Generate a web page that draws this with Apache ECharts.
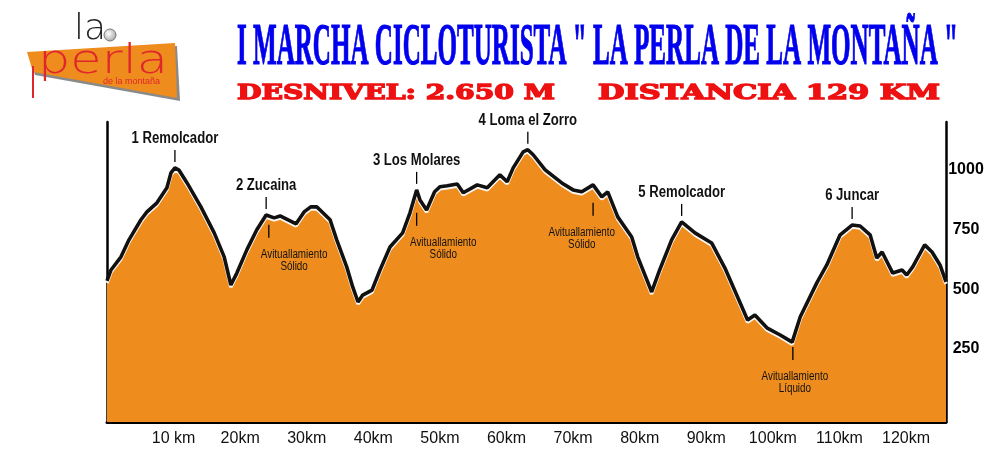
<!DOCTYPE html>
<html><head><meta charset="utf-8">
<script src="https://cdn.jsdelivr.net/npm/echarts@6/dist/echarts.min.js"></script>
<style>html,body{margin:0;padding:0;background:#fff}#c{width:1000px;height:458px}</style>
</head><body><div id="c"></div>
<script>
// ---- data ----
const distanceKm = [0,0.6,2.1,3.3,5.1,6.0,7.5,9.0,9.6,10.2,10.8,12.0,14.1,16.1,17.6,18.6,19.5,21.0,22.5,23.9,25.1,26.0,26.9,28.4,29.6,30.6,31.5,32.0,33.5,34.5,36.0,36.9,37.7,38.4,39.8,41.0,42.5,44.4,45.5,46.5,47.0,48.0,49.2,50.0,51.1,52.6,53.5,55.6,57.1,59.0,60.1,61.0,62.5,63.2,64.0,65.8,68.3,70.0,71.3,73.0,74.3,75.2,76.7,78.8,79.7,81.8,83.0,84.8,86.3,88.3,90.8,92.8,94.7,96.2,97.3,99.1,101.1,102.9,104.1,106.6,108.1,110.1,111.9,113.1,114.6,115.6,116.4,118.0,119.4,120.1,121.0,122.8,123.9,125.1,126.0];
const elevationM = [535,581,636,707,791,824,862,925,987,1008,999,946,845,736,636,518,568,665,749,811,799,807,795,774,824,845,845,832,791,707,594,510,447,476,497,581,677,736,820,916,874,832,908,929,933,941,904,937,925,979,950,1008,1075,1084,1063,1000,945,916,908,937,887,908,803,719,636,489,581,707,782,736,694,589,468,372,393,339,309,279,384,527,602,728,769,765,728,631,656,568,581,560,594,686,656,602,531];
const xTickKm = [10,20,30,40,50,60,70,80,90,100,110,120];
const yTickM = [250,500,750,1000];
const peakNames = ['1 Remolcador','2 Zucaina','3 Los Molares','4 Loma el Zorro','5 Remolcador','6 Juncar'];
const peakKm = [10.2,23.9,46.5,63.2,86.3,111.9];
const peakElev = [1008,811,916,1084,782,769];
const stopLine1 = ['Avituallamiento','Avituallamiento','Avituallamiento','Avituallamiento'];
const stopLine2 = ['Sólido','Sólido','Sólido','Líquido'];
const stopKm = [24.3,46.5,73.0,103.0];
const stopElev = [770,820,862,259];
const stopTextKm = [28.1,50.5,71.3,103.3];
const titleText = 'I MARCHA CICLOTURISTA " LA PERLA DE LA MONTAÑA "';
const sub1 = 'DESNIVEL: 2.650 M';
const sub2 = 'DISTANCIA 129 KM';

// ---- helpers ----
const mctx = document.createElement('canvas').getContext('2d');
function textW(t, font){ mctx.font = font; return mctx.measureText(t).width; }
function hasFont(name){
  const s='abcdefghijklmnopqrstuvwxyz0123456789';
  const a=textW(s,'20px monospace'); const b=textW(s,'20px "'+name+'", monospace');
  return Math.abs(a-b)>0.5;
}
const narrowOK = hasFont('Liberation Sans Narrow');
const NF = narrowOK ? '"Liberation Sans Narrow"' : '"Liberation Sans"';
const NS = narrowOK ? 1 : 0.82;

const chart = echarts.init(document.getElementById('c'), null, {renderer:'canvas'});

const titleFont = 'bold 60px "Liberation Serif"';
const subFont = 'bold 20px "DejaVu Serif"';
const perlaFont = '200 44px "DejaVu Sans"';
const laFont = '200 36px "DejaVu Sans"';

const option = {
  animation:false,
  backgroundColor:'#fff',
  grid:{left:107,right:54,top:122,bottom:36},
  xAxis:{type:'value',min:0,max:126,
    axisLine:{show:true,onZero:false,lineStyle:{color:'#000',width:3}},
    axisTick:{show:false},splitLine:{show:false},
    axisLabel:{customValues:xTickKm,margin:9,color:'#111',
      fontFamily:NF,fontSize:narrowOK?19:16,
      formatter:v=> v===10 ? '10 km' : v+'km'}},
  yAxis:[
    {type:'value',min:-55,max:1200,position:'right',
      axisLine:{show:true,onZero:false,lineStyle:{color:'#000',width:2.5}},
      axisTick:{show:false},splitLine:{show:false},
      axisLabel:{customValues:yTickM,align:'center',margin:20,color:'#000',
        fontWeight:'bold',fontFamily:NF,fontSize:narrowOK?19:16,formatter:v=>String(v)}},
    {type:'value',min:-55,max:1200,position:'left',
      axisLine:{show:true,onZero:false,lineStyle:{color:'#000',width:2.5}},
      axisTick:{show:false},splitLine:{show:false},axisLabel:{show:false}}
  ],
  series:[
    {type:'line',yAxisIndex:0,data:distanceKm.map((d,i)=>[d,elevationM[i]]),
      symbol:'none',smooth:false,
      lineStyle:{color:'#111',width:3.6,shadowColor:'rgba(255,255,255,0.95)',shadowBlur:0,shadowOffsetY:2},
      areaStyle:{color:'#EE8C1D',opacity:1,origin:'start'},z:2},
    {type:'custom',yAxisIndex:0,clip:false,z:5,
      data:peakKm.map((k,i)=>[k,peakElev[i]]),
      renderItem:(params,api)=>{
        const p=api.coord([api.value(0),api.value(1)]);
        const i=params.dataIndex;
        return {type:'group',children:[
          {type:'line',shape:{x1:p[0],y1:p[1]-18,x2:p[0],y2:p[1]-6},style:{stroke:'#000',lineWidth:1.3}},
          {type:'text',x:p[0],y:p[1]-29,scaleX:NS,style:{text:peakNames[i],font:'bold 16px '+NF,fill:'#111',align:'center',verticalAlign:'middle'}}
        ]};
      }},
    {type:'custom',yAxisIndex:0,clip:false,z:5,
      data:stopKm.map((k,i)=>[k,stopElev[i],stopTextKm[i]]),
      renderItem:(params,api)=>{
        const p=api.coord([api.value(0),api.value(1)]);
        const tx=api.coord([api.value(2),api.value(1)])[0];
        const i=params.dataIndex;
        return {type:'group',children:[
          {type:'line',shape:{x1:p[0],y1:p[1],x2:p[0],y2:p[1]+13},style:{stroke:'#000',lineWidth:1.3}},
          {type:'text',x:tx,y:p[1]+30,scaleX:NS,style:{text:stopLine1[i],font:'12px '+NF,fill:'#111',align:'center',verticalAlign:'middle'}},
          {type:'text',x:tx,y:p[1]+42,scaleX:NS,style:{text:stopLine2[i],font:'12px '+NF,fill:'#111',align:'center',verticalAlign:'middle'}}
        ]};
      }}
  ],
  graphic:[
    // logo
    {type:'polygon',shape:{points:[[29,55],[177,46],[180,101],[35,75]]},style:{fill:'#8a8a8a'},z:1},
    {type:'polygon',shape:{points:[[27,52],[175,43],[177,98],[33,72]]},style:{fill:'#EE8C1D'},z:2},
    {type:'line',shape:{x1:33,y1:66,x2:33,y2:98},style:{stroke:'#e0262d',lineWidth:2},z:3},
    {type:'text',x:38,y:62,scaleX:130/textW('perla',perlaFont),scaleY:0.92,style:{text:'perla',font:perlaFont,fill:'#e0262d',align:'left',verticalAlign:'middle'},z:3},
    {type:'text',x:74,y:30,style:{text:'la',font:laFont,fill:'#222',align:'left',verticalAlign:'middle'},z:3},
    {type:'circle',shape:{cx:110,cy:35,r:6},style:{fill:{type:'radial',x:0.4,y:0.4,r:0.7,colorStops:[{offset:0,color:'#ffffff'},{offset:1,color:'#9a9a9a'}]},stroke:'#777',lineWidth:1},z:4},
    {type:'text',x:103,y:82,style:{text:'de la montaña',font:'9px "Liberation Sans"',fill:'#e0262d',align:'left',verticalAlign:'middle'},z:3},
    // title
    {type:'text',x:237,y:48,scaleX:721/textW(titleText,titleFont),style:{text:titleText,font:titleFont,fill:'#0000ee',stroke:'#0000ee',lineWidth:1.2,align:'left',verticalAlign:'middle'}},
    {type:'text',x:237,y:94,scaleX:318/textW(sub1,subFont),style:{text:sub1,font:subFont,fill:'#ee1111',stroke:'#ee1111',lineWidth:1.3,align:'left',verticalAlign:'middle'}},
    {type:'text',x:598,y:94,scaleX:342/textW(sub2,subFont),style:{text:sub2,font:subFont,fill:'#ee1111',stroke:'#ee1111',lineWidth:1.3,align:'left',verticalAlign:'middle'}}
  ]
};
chart.setOption(option);
</script></body></html>
